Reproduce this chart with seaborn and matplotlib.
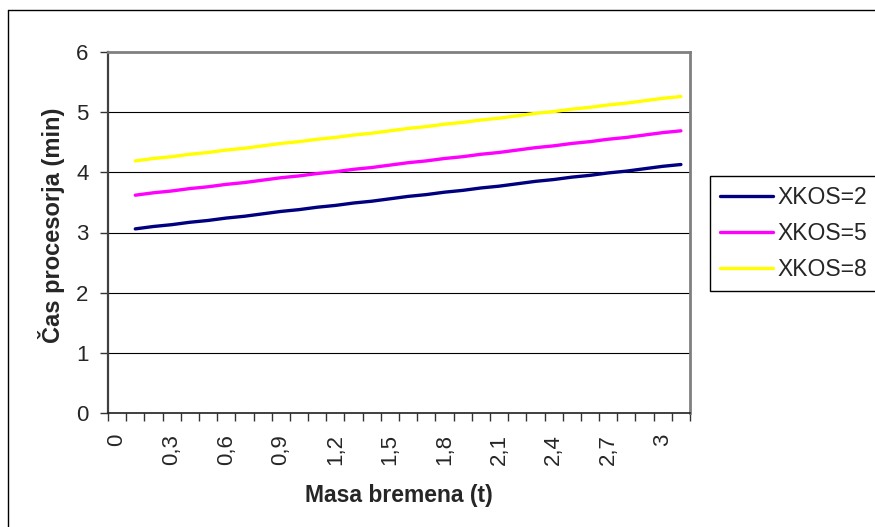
import matplotlib
matplotlib.use("Agg")
import matplotlib.pyplot as plt
from matplotlib.lines import Line2D
from matplotlib.ticker import FixedLocator
import seaborn as sns
import pandas as pd

# Load mass categories (t): 0.0 .. 3.1 in steps of 0.1
mass = [round(0.1 * i, 1) for i in range(32)]

# Processor time (min) for each XKOS setting, starting at 0.1 t
time_xkos2 = [3.06, 3.10, 3.13, 3.17, 3.20, 3.24, 3.27, 3.31, 3.35, 3.38, 3.42,
              3.45, 3.49, 3.52, 3.56, 3.60, 3.63, 3.67, 3.70, 3.74, 3.77, 3.81,
              3.85, 3.88, 3.92, 3.95, 3.99, 4.02, 4.06, 4.10, 4.13]
time_xkos5 = [3.62, 3.66, 3.69, 3.73, 3.76, 3.80, 3.83, 3.87, 3.91, 3.94, 3.98,
              4.01, 4.05, 4.08, 4.12, 4.16, 4.19, 4.23, 4.26, 4.30, 4.33, 4.37,
              4.41, 4.44, 4.48, 4.51, 4.55, 4.58, 4.62, 4.66, 4.69]
time_xkos8 = [4.19, 4.23, 4.26, 4.30, 4.33, 4.37, 4.40, 4.44, 4.48, 4.51, 4.55,
              4.58, 4.62, 4.65, 4.69, 4.73, 4.76, 4.80, 4.83, 4.87, 4.90, 4.94,
              4.98, 5.01, 5.05, 5.08, 5.12, 5.15, 5.19, 5.23, 5.26]

series_names = ["XKOS=2", "XKOS=5", "XKOS=8"]
series_colors = ["#000080", "#FF00FF", "#FFFF00"]
x_label = "Masa bremena (t)"
y_label = "Čas procesorja (min)"
y_ticks = [0, 1, 2, 3, 4, 5, 6]

rows = []
for name, values in zip(series_names, [time_xkos2, time_xkos5, time_xkos8]):
    for k, v in enumerate(values):
        pos = k + 1  # category position (first category 0 t has no value)
        rows.append({"pos": pos, "mass": mass[pos], "time": v, "series": name})
df = pd.DataFrame(rows)

sns.set_theme(style="white")
plt.rcParams["font.family"] = ["Liberation Sans", "DejaVu Sans"]

W, H = 875, 527
fig = plt.figure(figsize=(W / 100, H / 100), dpi=100)
fig.patch.set_facecolor("white")

# Outer chart frame
fig.add_artist(Line2D([8 / W, 8 / W], [-0.1, 1 - 10 / H], transform=fig.transFigure,
                      color="black", lw=1.0))
fig.add_artist(Line2D([8 / W, 1.1], [1 - 10 / H, 1 - 10 / H], transform=fig.transFigure,
                      color="black", lw=1.0))

left, right, top, bottom = 108, 690, 52, 413
ax = fig.add_axes([left / W, 1 - bottom / H, (right - left) / W, (bottom - top) / H])

sns.lineplot(data=df, x="pos", y="time", hue="series", hue_order=series_names,
             palette=series_colors, linewidth=2.4, ax=ax, legend=True)

ax.set_xlim(-0.5, len(mass) - 0.5)
ax.set_ylim(0, 6)

# Horizontal gridlines
ax.set_yticks(y_ticks)
ax.set_yticklabels([str(t) for t in y_ticks], fontsize=16)
for t in y_ticks[1:-1]:
    ax.axhline(t, color="black", lw=0.8, zorder=0)

# Category axis: labels every 3rd category, tick marks between categories
label_pos = list(range(0, len(mass), 3))
ax.xaxis.set_major_locator(FixedLocator(label_pos))
ax.set_xticklabels([f"{mass[p]:g}".replace(".", ",") for p in label_pos],
                   rotation=90, fontsize=16, va="top", ha="center")
ax.xaxis.set_minor_locator(FixedLocator([p - 0.5 for p in range(len(mass) + 1)]))
ax.tick_params(axis="x", which="major", length=0, pad=15)
ax.tick_params(axis="x", which="minor", length=6, width=1.0, color="#333333",
               direction="out", bottom=True)
ax.tick_params(axis="y", which="major", length=6, width=1.0, color="#333333",
               direction="out", left=True, pad=8)

ax.set_xlabel(x_label, fontsize=16.5, fontweight="bold", labelpad=14)
ax.set_ylabel(y_label, fontsize=17, fontweight="bold")
ax.yaxis.set_label_coords(-0.074, 0.52)

for side in ["top", "right"]:
    ax.spines[side].set_color("#808080")
    ax.spines[side].set_linewidth(2.0)
ax.spines["left"].set_color("#404040")
ax.spines["left"].set_linewidth(1.6)
ax.spines["bottom"].set_color("#202020")
ax.spines["bottom"].set_linewidth(1.2)

handles, labels = ax.get_legend_handles_labels()
ax.get_legend().remove()
for h in handles:
    h.set_linewidth(2.4)
leg = fig.legend(handles, labels, loc="upper left",
                 bbox_to_anchor=(710 / W, 1 - 176 / H), bbox_transform=fig.transFigure,
                 borderaxespad=0, fontsize=16.5, frameon=True, fancybox=False,
                 shadow=False, handlelength=2.3, handletextpad=0.2,
                 labelspacing=0.55, borderpad=0.45)
leg.get_frame().set_edgecolor("black")
leg.get_frame().set_linewidth(1.0)
leg.get_frame().set_alpha(1)

fig.savefig("out.png", dpi=100, facecolor="white")
